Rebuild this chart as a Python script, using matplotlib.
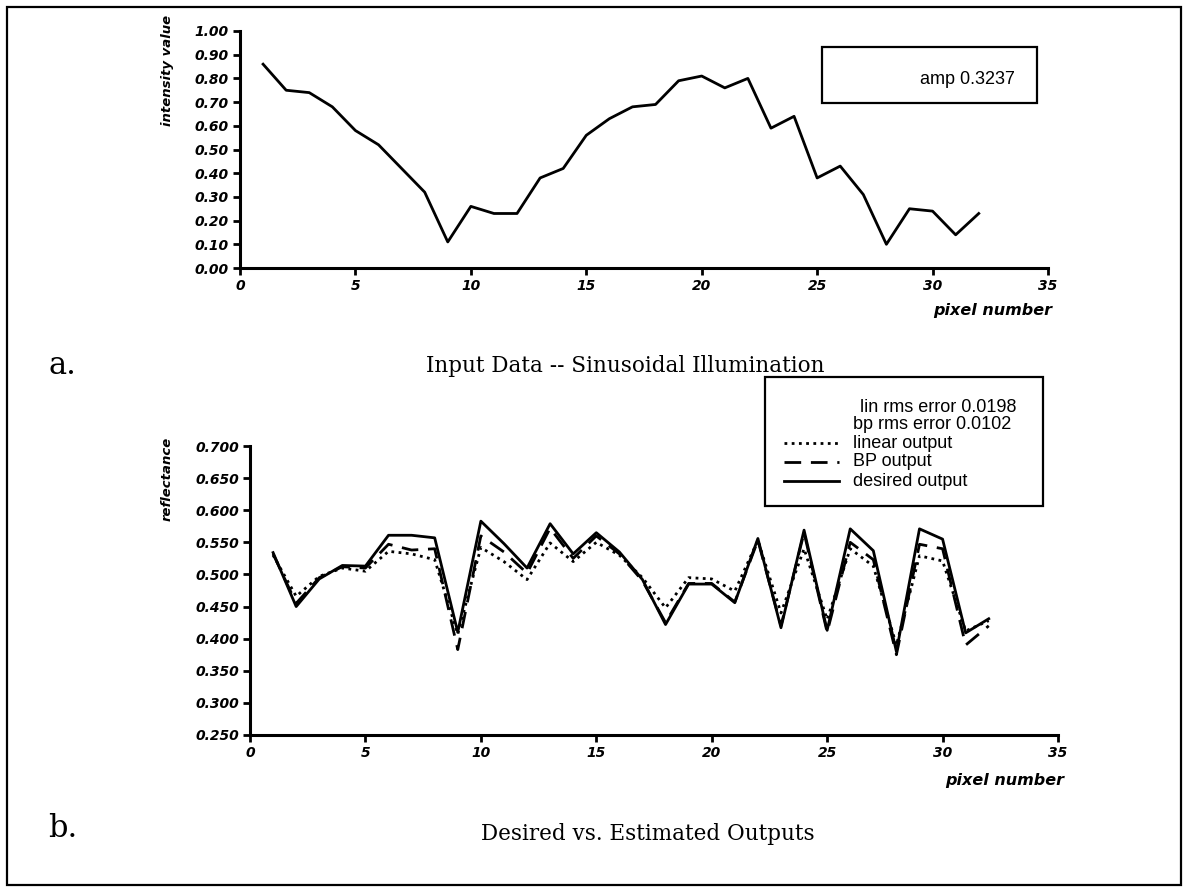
import numpy as np
import matplotlib.pyplot as plt
from matplotlib.lines import Line2D
from matplotlib.patches import Rectangle

plt.rcParams['font.family'] = ['Liberation Sans', 'DejaVu Sans']

W, H = 1185, 890

# pixel index along the scan line
pixel = np.arange(1, 33)

# input illumination profile
intensity = [0.86, 0.75, 0.74, 0.68, 0.58, 0.52, 0.42, 0.32, 0.11, 0.26, 0.23, 0.23,
             0.38, 0.42, 0.56, 0.63, 0.68, 0.69, 0.79, 0.81, 0.76, 0.80, 0.59, 0.64,
             0.38, 0.43, 0.31, 0.10, 0.25, 0.24, 0.14, 0.23]

# reflectance estimates vs. target
desired = [0.534, 0.450, 0.493, 0.514, 0.513, 0.561, 0.561, 0.557, 0.410, 0.583, 0.548, 0.510,
           0.579, 0.532, 0.565, 0.535, 0.492, 0.422, 0.485, 0.485, 0.456, 0.556, 0.417, 0.569,
           0.413, 0.571, 0.537, 0.380, 0.571, 0.555, 0.409, 0.431]
bp_out = [0.532, 0.455, 0.495, 0.512, 0.510, 0.547, 0.538, 0.540, 0.383, 0.560, 0.535, 0.502,
          0.572, 0.525, 0.560, 0.532, 0.490, 0.425, 0.486, 0.486, 0.457, 0.553, 0.420, 0.565,
          0.410, 0.550, 0.523, 0.375, 0.547, 0.540, 0.390, 0.420]
linear_out = [0.530, 0.466, 0.497, 0.510, 0.505, 0.536, 0.532, 0.523, 0.407, 0.542, 0.520, 0.492,
              0.549, 0.520, 0.550, 0.530, 0.495, 0.448, 0.495, 0.493, 0.474, 0.553, 0.440, 0.540,
              0.430, 0.540, 0.513, 0.390, 0.529, 0.521, 0.412, 0.428]

amp = 0.3237
lin_rms = 0.0198
bp_rms = 0.0102

xticks = [0, 5, 10, 15, 20, 25, 30, 35]
top_yticks = [0.0, 0.1, 0.2, 0.3, 0.4, 0.5, 0.6, 0.7, 0.8, 0.9, 1.0]
bot_yticks = [0.25, 0.30, 0.35, 0.40, 0.45, 0.50, 0.55, 0.60, 0.65, 0.70]

SERIF = ['DejaVu Serif']
# heavy oblique face for the axis text
AXFONT = dict(family=['DejaVu Sans'], fontweight='bold', fontstyle='oblique')


def fx(x):
    return x / W


def fy(y):
    return 1 - y / H


def rect(x0, y0, x1, y1):
    # axes rectangle from pixel corners (top-left origin)
    return [fx(x0), fy(y1), fx(x1) - fx(x0), fy(y0) - fy(y1)]


def box(x0, y0, x1, y1):
    fig.add_artist(Rectangle((fx(x0), fy(y1)), fx(x1) - fx(x0), fy(y0) - fy(y1),
                             transform=fig.transFigure, fill=False, lw=1.6, ec='black'))


def style_axes(ax, yticks, yfmt):
    for s in ['top', 'right']:
        ax.spines[s].set_visible(False)
    for s in ['left', 'bottom']:
        ax.spines[s].set_linewidth(2.2)
    ax.set_xlim(0, 35)
    ax.set_ylim(yticks[0], yticks[-1])
    ax.set_xticks(xticks, labels=[str(t) for t in xticks], fontsize=10, **AXFONT)
    ax.set_yticks(yticks, labels=[yfmt % t for t in yticks], fontsize=10, **AXFONT)
    ax.tick_params(direction='out', length=5, width=2, pad=3)
    ax.patch.set_visible(False)


fig = plt.figure(figsize=(W / 100, H / 100), dpi=100)

# outer frame
box(7, 7, 1181, 885)

# a. input illumination
ax1 = fig.add_axes(rect(240, 31, 1048, 268))
ax1.plot(pixel, intensity, color='black', lw=2.0)
style_axes(ax1, top_yticks, '%.2f')

fig.text(fx(167), fy(15), 'intensity value', rotation=90, ha='center', va='top',
         fontsize=9.5, **AXFONT)
fig.text(fx(1052), fy(310), 'pixel number', ha='right', va='center',
         fontsize=11.5, **AXFONT)

box(822, 47, 1037, 103)
fig.text(fx(1015), fy(80), f'amp {amp:.4f}', ha='right', va='center', fontsize=13)

fig.text(fx(48), fy(374), 'a.', ha='left', va='baseline', fontsize=22, family=SERIF)
fig.text(fx(824), fy(372), 'Input Data -- Sinusoidal Illumination', ha='right',
         va='baseline', fontsize=15.5, family=SERIF)

# b. desired vs. estimated outputs
ax2 = fig.add_axes(rect(250, 446, 1058, 735))
ax2.plot(pixel, linear_out, color='black', lw=2.0, linestyle=(0, (1, 1.6)))
ax2.plot(pixel, bp_out, color='black', lw=2.0, linestyle=(0, (6, 3.5)))
ax2.plot(pixel, desired, color='black', lw=2.0)
style_axes(ax2, bot_yticks, '%.3f')

fig.text(fx(167), fy(437), 'reflectance', rotation=90, ha='center', va='top',
         fontsize=9.5, **AXFONT)
fig.text(fx(1064), fy(780), 'pixel number', ha='right', va='center',
         fontsize=11.5, **AXFONT)

box(765, 377, 1043, 506)
fig.text(fx(860), fy(407), f'lin rms error {lin_rms:.4f}', ha='left', va='center', fontsize=13)
fig.text(fx(853), fy(425), f'bp rms error {bp_rms:.4f}', ha='left', va='center', fontsize=13)
legend_rows = [('linear output', (0, (1, 1.6)), 443),
               ('BP output', (0, (6, 3.5)), 462),
               ('desired output', '-', 481)]
for label, ls, yy in legend_rows:
    fig.add_artist(Line2D([fx(784), fx(839)], [fy(yy), fy(yy)], transform=fig.transFigure,
                          color='black', lw=2.0, linestyle=ls))
    fig.text(fx(853), fy(yy), label, ha='left', va='center', fontsize=13)

fig.text(fx(48), fy(837), 'b.', ha='left', va='baseline', fontsize=22, family=SERIF)
fig.text(fx(648), fy(840), 'Desired vs. Estimated Outputs', ha='center',
         va='baseline', fontsize=15.5, family=SERIF)

fig.savefig('out.png', dpi=100)
